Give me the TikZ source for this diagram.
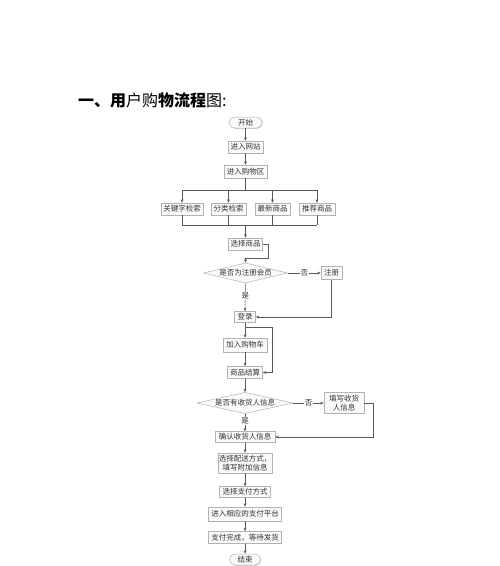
\documentclass[tikz,border=0pt]{standalone}
\usepackage{fontspec}
\setmainfont{Noto Sans CJK SC}
\usetikzlibrary{shapes.geometric,arrows.meta,shadows}
\begin{document}
\begin{tikzpicture}[x=1pt,y=-1pt,
  box/.style={draw=gray!60, fill=gray!4, line width=0.5pt, inner sep=0pt,
    text=black!80, font=\fontsize{7.5}{9}\selectfont, align=center,
    drop shadow={shadow xshift=0.8pt, shadow yshift=-0.8pt, fill=gray!70, opacity=0.45}},
  term/.style={box, rounded corners=5.5pt},
  dia/.style={diamond, draw=gray!60, fill=gray!4, line width=0.5pt, inner sep=0pt,
    aspect=4.2, text=black!80, font=\fontsize{7.5}{9}\selectfont},
  line/.style={draw=black!65, line width=0.5pt},
  arr/.style={line, -{Stealth[length=3.5pt,width=2.8pt]}},
  lab/.style={fill=white, inner sep=0.8pt, text=black!80, font=\fontsize{7.5}{9}\selectfont}]
\useasboundingbox (0,0) rectangle (500,566);
\fill[white] (0,0) rectangle (500,566);

\node[anchor=west, inner sep=0pt, font=\fontsize{16}{18}\selectfont] (title) at (78,100)
  {{\bfseries 一、用}户购{\bfseries 物流程}图:};

\node[term, minimum width=33pt, minimum height=11pt] (start) at (245.5,122.5) {开始};
\node[box, minimum width=35pt, minimum height=12pt] (n1) at (245.5,147) {进入网站};
\node[box, minimum width=43pt, minimum height=13pt] (n2) at (245.5,171.5) {进入购物区};
\node[box, minimum width=42pt, minimum height=12pt] (k1) at (182,209) {关键字检索};
\node[box, minimum width=35pt, minimum height=12pt] (k2) at (228.5,209) {分类检索};
\node[box, minimum width=35pt, minimum height=12pt] (k3) at (272.5,209) {最新商品};
\node[box, minimum width=36pt, minimum height=12pt] (k4) at (317,209) {推荐商品};
\node[box, minimum width=34pt, minimum height=12pt] (sel) at (245.5,244) {选择商品};
\node[dia, minimum width=84pt, minimum height=20pt] (d1) at (245.5,273) {是否为注册会员};
\node[box, minimum width=21pt, minimum height=13pt] (reg) at (331.5,273) {注册};
\node[box, minimum width=21pt, minimum height=11pt] (login) at (245,317) {登录};
\node[box, minimum width=44pt, minimum height=14pt] (cart) at (245,345) {加入购物车};
\node[box, minimum width=35pt, minimum height=12pt] (pay) at (245,372.5) {商品结算};
\node[dia, minimum width=96pt, minimum height=20pt] (d2) at (245,403) {是否有收货人信息};
\node[box, minimum width=40pt, minimum height=21pt] (fill) at (344,403) {填写收货\\人信息};
\node[box, minimum width=60pt, minimum height=11pt] (confirm) at (245,437) {确认收货人信息};
\node[box, minimum width=54pt, minimum height=20pt] (ship) at (245,463) {选择配送方式，\\填写附加信息};
\node[box, minimum width=51pt, minimum height=11pt] (paym) at (245,492) {选择支付方式};
\node[box, minimum width=73pt, minimum height=14pt] (plat) at (245,514) {进入相应的支付平台};
\node[box, minimum width=73pt, minimum height=12pt] (done) at (245,537.5) {支付完成，等待发货};
\node[term, minimum width=31pt, minimum height=11pt] (end) at (245,559.5) {结束};

\coordinate (bt) at (245.5,190);
\coordinate (bb) at (245.5,225);
\coordinate (s1) at (268,244);
\coordinate (s2) at (268,258);
\coordinate (s3) at (245.5,258);
\coordinate (lb) at (245,327);
\coordinate (lr) at (272,327);
\coordinate (fr) at (373,403);

\draw[arr] (start) -- (n1);
\draw[arr] (n1) -- (n2);
\draw[line] (n2.south) -- (bt);
\draw[line] (k1.north|-bt) -- (k4.north|-bt);
\foreach \k in {k1,k2,k3,k4} {
  \draw[arr] (\k.north|-bt) -- (\k.north);
  \draw[line] (\k.south) -- (\k.south|-bb);
}
\draw[line] (k1.south|-bb) -- (k4.south|-bb);
\draw[arr] (bb) -- (sel.north);
\draw[arr] (sel.east) -- (s1) -- (s2) -- (s3) -- (d1.north);
\draw[arr] (d1.east) -- node[lab]{否} (reg.west);
\draw[arr] (d1.south) -- node[lab, pos=0.45]{是} (login.north);
\draw[arr] (reg.south) |- (login.east);
\draw[arr] (login.south) -- (cart.north);
\draw[arr] (lb) -- (lr) |- (pay.east);
\draw[arr] (cart) -- (pay);
\draw[arr] (pay) -- (d2.north);
\draw[arr] (d2.east) -- node[lab]{否} (fill.west);
\draw[arr] (fill.east) -- (fr) |- (confirm.east);
\draw[arr] (d2.south) -- node[lab, pos=0.4]{是} (confirm.north);
\draw[arr] (confirm) -- (ship);
\draw[arr] (ship) -- (paym);
\draw[arr] (paym) -- (plat);
\draw[arr] (plat) -- (done);
\draw[arr] (done) -- (end);
\end{tikzpicture}
\end{document}
